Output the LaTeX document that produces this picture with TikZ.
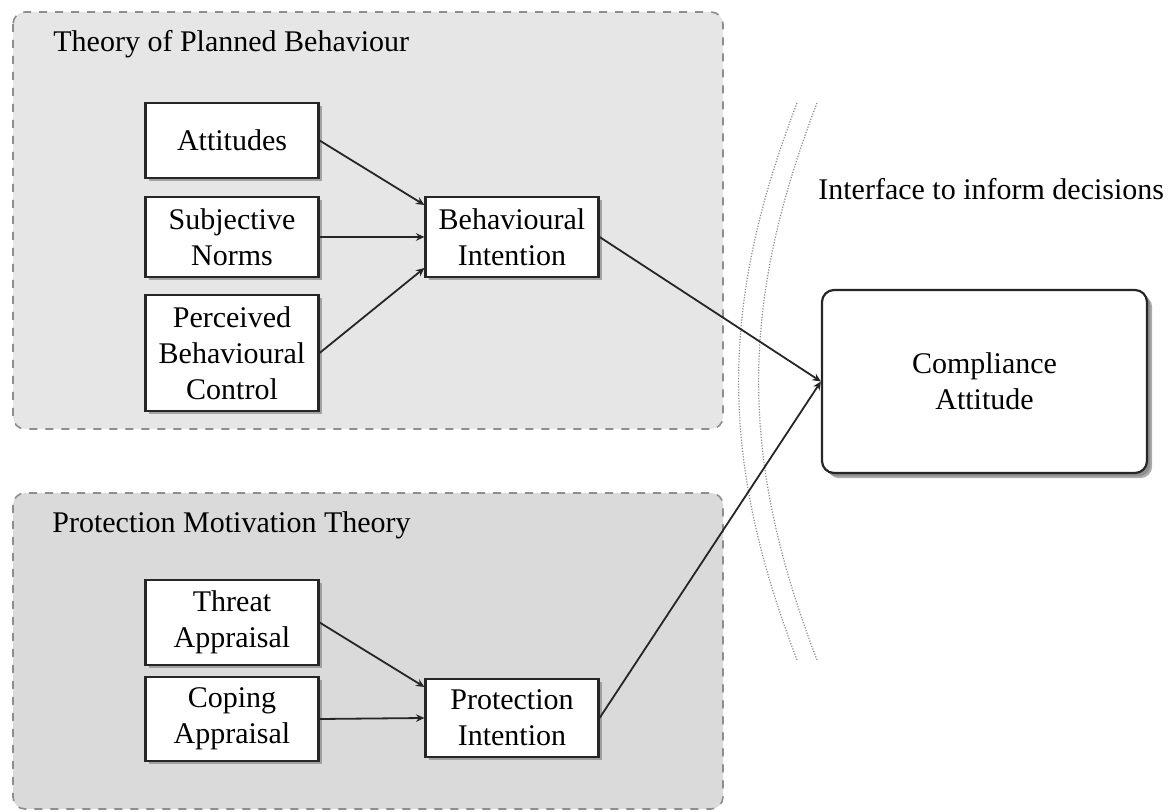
\documentclass[tikz,border=0pt]{standalone}
\usepackage{fontspec}
\setmainfont{Liberation Serif}
\usetikzlibrary{arrows.meta,shadows,calc}

\definecolor{tpbfill}{HTML}{E6E6E6}
\definecolor{pmtfill}{HTML}{DADADA}
\definecolor{groupline}{HTML}{8E8E8E}
\definecolor{inkline}{HTML}{262626}

\tikzset{
  group/.style={draw=groupline, line width=0.8pt, dash pattern=on 4pt off 4pt, rounded corners=6pt},
  construct/.style={draw=inkline, fill=white, line width=1.1pt, align=center, inner sep=0pt,
    minimum width=86.5pt, font=\fontsize{15}{18}\selectfont,
    drop shadow={shadow xshift=1.7pt, shadow yshift=-1.7pt, opacity=0.65}},
  outcome/.style={construct, rounded corners=6pt, minimum width=162.5pt, minimum height=91.5pt,
    drop shadow={shadow xshift=2.6pt, shadow yshift=-2.6pt, opacity=0.65}},
  link/.style={draw=inkline, line width=0.9pt, -{Stealth[length=4.2pt,width=3.8pt]}},
  interface/.style={draw=gray!90, line width=0.6pt, dash pattern=on 0.6pt off 0.8pt},
  heading/.style={font=\fontsize{15}{18}\selectfont, inner sep=0pt, anchor=base west}
}

\begin{document}
\begin{tikzpicture}[x=0.5pt,y=-0.5pt]
\useasboundingbox (0,0) rectangle (1174,812);

% model groups
\fill[tpbfill, rounded corners=6pt] (13,12) rectangle (723,429);
\draw[group] (13,12) rectangle (723,429);
\fill[pmtfill, rounded corners=6pt] (13,493) rectangle (723,809);
\draw[group] (13,493) rectangle (723,809);

\node[heading] (tpbtitle) at (53,52) {Theory of Planned Behaviour};
\node[heading] (pmttitle) at (52,533) {Protection Motivation Theory};

% interface boundary
\draw[interface] (797,103) to[bend right=21] (797,660);
\draw[interface] (817,103) to[bend right=21] (817,660);
\node[heading] (iflabel) at (818,200) {Interface to inform decisions};

% Theory of Planned Behaviour constructs
\node[construct, minimum height=37.5pt] (att) at (232,140.5) {Attitudes};
\node[construct, minimum height=40pt] (sn) at (232,237) {Subjective\\Norms};
\node[construct, minimum height=58pt] (pbc) at (232,353) {Perceived\\Behavioural\\Control};
\node[construct, minimum height=40pt] (bi) at (512,237) {Behavioural\\Intention};

% Protection Motivation Theory constructs
\node[construct, minimum height=42.5pt] (ta) at (232,622.5) {Threat\\Appraisal};
\node[construct, minimum height=42pt] (ca) at (232,719) {Coping\\Appraisal};
\node[construct, minimum height=39pt] (pi) at (512,718) {Protection\\Intention};

% outcome
\node[outcome] (comp) at (984.5,381.5) {Compliance\\Attitude};

% connectors
\draw[link] (att.east) -- ($(bi.west)+(0,-32)$);
\draw[link] (sn.east) -- (bi.west);
\draw[link] (pbc.east) -- ($(bi.west)+(0,31)$);
\draw[link] (ta.east) -- ($(pi.west)+(0,-31)$);
\draw[link] (ca.east) -- (pi.west);
\draw[link] (bi.east) -- (comp.west);
\draw[link] (pi.east) -- (comp.west);
\end{tikzpicture}
\end{document}
